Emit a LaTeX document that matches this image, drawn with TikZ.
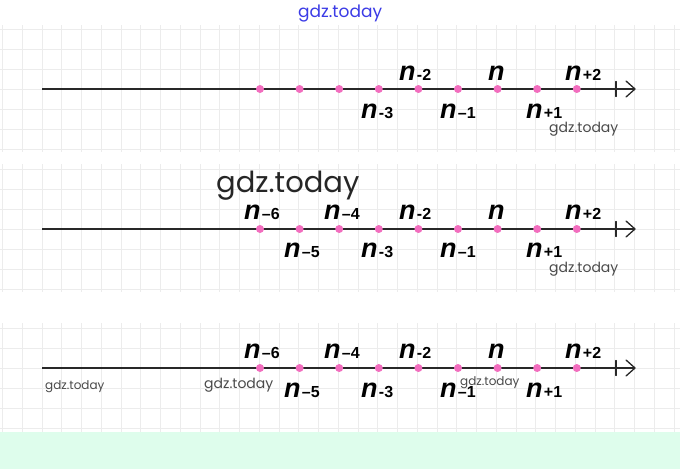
\documentclass[tikz,border=0pt]{standalone}
\usepackage{fontspec}
\setmainfont{Liberation Sans}
\newfontfamily\wmfont{Poppins}
\definecolor{gridc}{HTML}{ECECEC}
\definecolor{dotc}{HTML}{F26DBE}
\definecolor{axisc}{HTML}{282828}
\definecolor{mint}{HTML}{DEFDEC}
\definecolor{wmblue}{HTML}{3B3BE6}
\definecolor{wmgray}{HTML}{4A4A4A}
\newcommand\nlab[1]{{\fontsize{27}{27}\selectfont\bfseries\itshape n}\kern1.5pt{\fontsize{16}{16}\selectfont\bfseries #1}}
\tikzset{
  gridline/.style={draw=gridc, line width=0.9pt},
  axisline/.style={draw=axisc, line width=1.8pt},
  arrowline/.style={draw=axisc, line width=1.3pt, line cap=round, line join=round},
  ptdot/.style={fill=dotc},
  lab/.style={anchor=base west, inner sep=0pt, outer sep=0pt},
  wm/.style={anchor=base west, inner sep=0pt, text=wmgray, font=\wmfont\fontsize{14}{14}\selectfont},
}
\newcommand\panelgrid[3]{% #1 top, #2 bottom, #3 first horizontal line
  \foreach \k in {-2,...,32} {\draw[gridline] ({42+19.75*\k},#1) -- ({42+19.75*\k},#2);}
  \foreach \j in {0,...,6} {\pgfmathsetmacro\yy{#3+20*\j}\ifdim\yy pt<#2pt\relax\draw[gridline] (0,\yy) -- (680,\yy);\fi}
}
\newcommand\axis[2]{% #1 y, #2 name prefix
  \draw[axisline] (42,#1) -- (634,#1);
  \draw[arrowline] (616,#1-7.5) -- (616,#1+7.5);
  \draw[arrowline] (626,#1-8) -- (635,#1) -- (626,#1+8);
  \foreach \i in {0,...,8} {\coordinate (#2\i) at ({260+39.6*\i},#1); \fill[ptdot] (#2\i) circle (4);}
}
\begin{document}
\begin{tikzpicture}[x=1pt,y=-1pt]
\useasboundingbox (0,0) rectangle (680,469);
\fill[white] (0,0) rectangle (680,469);
\fill[mint] (0,432) rectangle (680,469);
% grids
\panelgrid{25}{152}{29}
\panelgrid{164}{292}{169}
\panelgrid{323}{432}{328}
% axes
\axis{89}{a}
\axis{229}{b}
\axis{368}{c}
% panel 1 labels
\node[lab] (a4l) at (399,80) {\nlab{-2}};
\node[lab] (a6l) at (488,80) {\nlab{}};
\node[lab] (a8l) at (565,80) {\nlab{+2}};
\node[lab] (a3l) at (361,118) {\nlab{-3}};
\node[lab] (a5l) at (440,118) {\nlab{--1}};
\node[lab] (a7l) at (526,118) {\nlab{+1}};
% panel 2 labels
\node[lab] (b0l) at (244,219) {\nlab{--6}};
\node[lab] (b2l) at (324,219) {\nlab{--4}};
\node[lab] (b4l) at (399,219) {\nlab{-2}};
\node[lab] (b6l) at (488,219) {\nlab{}};
\node[lab] (b8l) at (565,219) {\nlab{+2}};
\node[lab] (b1l) at (284,257) {\nlab{--5}};
\node[lab] (b3l) at (361,257) {\nlab{-3}};
\node[lab] (b5l) at (440,257) {\nlab{--1}};
\node[lab] (b7l) at (526,257) {\nlab{+1}};
% panel 3 labels
\node[lab] (c0l) at (244,358) {\nlab{--6}};
\node[lab] (c2l) at (324,358) {\nlab{--4}};
\node[lab] (c4l) at (399,358) {\nlab{-2}};
\node[lab] (c6l) at (488,358) {\nlab{}};
\node[lab] (c8l) at (565,358) {\nlab{+2}};
\node[lab] (c1l) at (284,397) {\nlab{--5}};
\node[lab] (c3l) at (361,397) {\nlab{-3}};
\node[lab] (c5l) at (440,397) {\nlab{--1}};
\node[lab] (c7l) at (526,397) {\nlab{+1}};
% watermarks
\node[wm, text=wmblue, font=\wmfont\fontsize{17}{17}\selectfont] (w0) at (298,17) {gdz.today};
\node[wm] (w1) at (549,132) {gdz.today};
\node[wm, text=black!85, font=\wmfont\fontsize{29}{29}\selectfont] (w2) at (216,192) {gdz.today};
\node[wm] (w3) at (549,272) {gdz.today};
\node[wm, font=\wmfont\fontsize{12}{12}\selectfont] (w4) at (45,389) {gdz.today};
\node[wm] (w5) at (204,388) {gdz.today};
\node[wm, font=\wmfont\fontsize{12}{12}\selectfont] (w6) at (460,385) {gdz.today};
\end{tikzpicture}
\end{document}
